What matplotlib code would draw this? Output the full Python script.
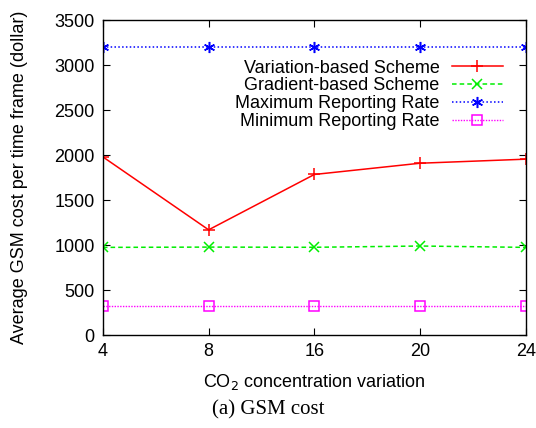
import matplotlib
matplotlib.use("Agg")
import matplotlib.pyplot as plt

variation_labels = ["4", "8", "16", "20", "24"]
variation_based = [1980, 1170, 1785, 1910, 1955]
gradient_based = [975, 978, 976, 990, 975]
max_rate = [3200, 3200, 3200, 3200, 3200]
min_rate = [320, 320, 320, 320, 320]
y_ticks = [0, 500, 1000, 1500, 2000, 2500, 3000, 3500]

plt.rcParams["font.family"] = ["Liberation Sans", "DejaVu Sans"]

fig = plt.figure(figsize=(5.36, 4.28), dpi=100)
ax = fig.add_axes([0.192, 0.217, 0.789, 0.736])

x = list(range(len(variation_labels)))
ax.plot(x, variation_based, color="#ff0000", lw=1.1, marker="+", ms=8, mew=1.1,
        label="Variation-based Scheme")
ax.plot(x, gradient_based, color="#00ee00", lw=1.1, ls=(0, (3, 2)), marker="x", ms=7, mew=1.1,
        label="Gradient-based Scheme")
ax.plot(x, max_rate, color="#0000ff", lw=1.1, ls=(0, (1, 1.5)), marker=(6, 2, 0), ms=8, mew=1.1,
        label="Maximum Reporting Rate")
ax.plot(x, min_rate, color="#ff00ff", lw=1.0, ls=(0, (1, 1)), marker="s", ms=6.5, mew=1.1,
        mfc="none", label="Minimum Reporting Rate")

ax.set_xlim(0, len(x) - 1)
ax.set_ylim(0, 3500)
ax.set_xticks(x)
ax.set_xticklabels(variation_labels)
ax.set_yticks(y_ticks)
ax.tick_params(direction="in", top=True, right=True, labelsize=13, length=5, pad=6)
for s in ax.spines.values():
    s.set_linewidth(1.0)

ax.set_ylabel("Average GSM cost per time frame (dollar)", fontsize=13, labelpad=19)
ax.set_xlabel("CO$_2$ concentration variation", fontsize=13, labelpad=8)

leg = ax.legend(loc="upper right", bbox_to_anchor=(0.975, 0.915), markerfirst=False,
                frameon=False, fontsize=13, handlelength=2.8, handletextpad=0.7,
                labelspacing=0.05, borderpad=0.2)
for t in leg.get_texts():
    t.set_ha("right")
leg._legend_box.align = "right"

fig.text(0.5, 0.042, "(a) GSM cost", ha="center", va="center", fontsize=15,
         family=["Liberation Serif", "DejaVu Serif"])

fig.savefig("out.png", dpi=100)
